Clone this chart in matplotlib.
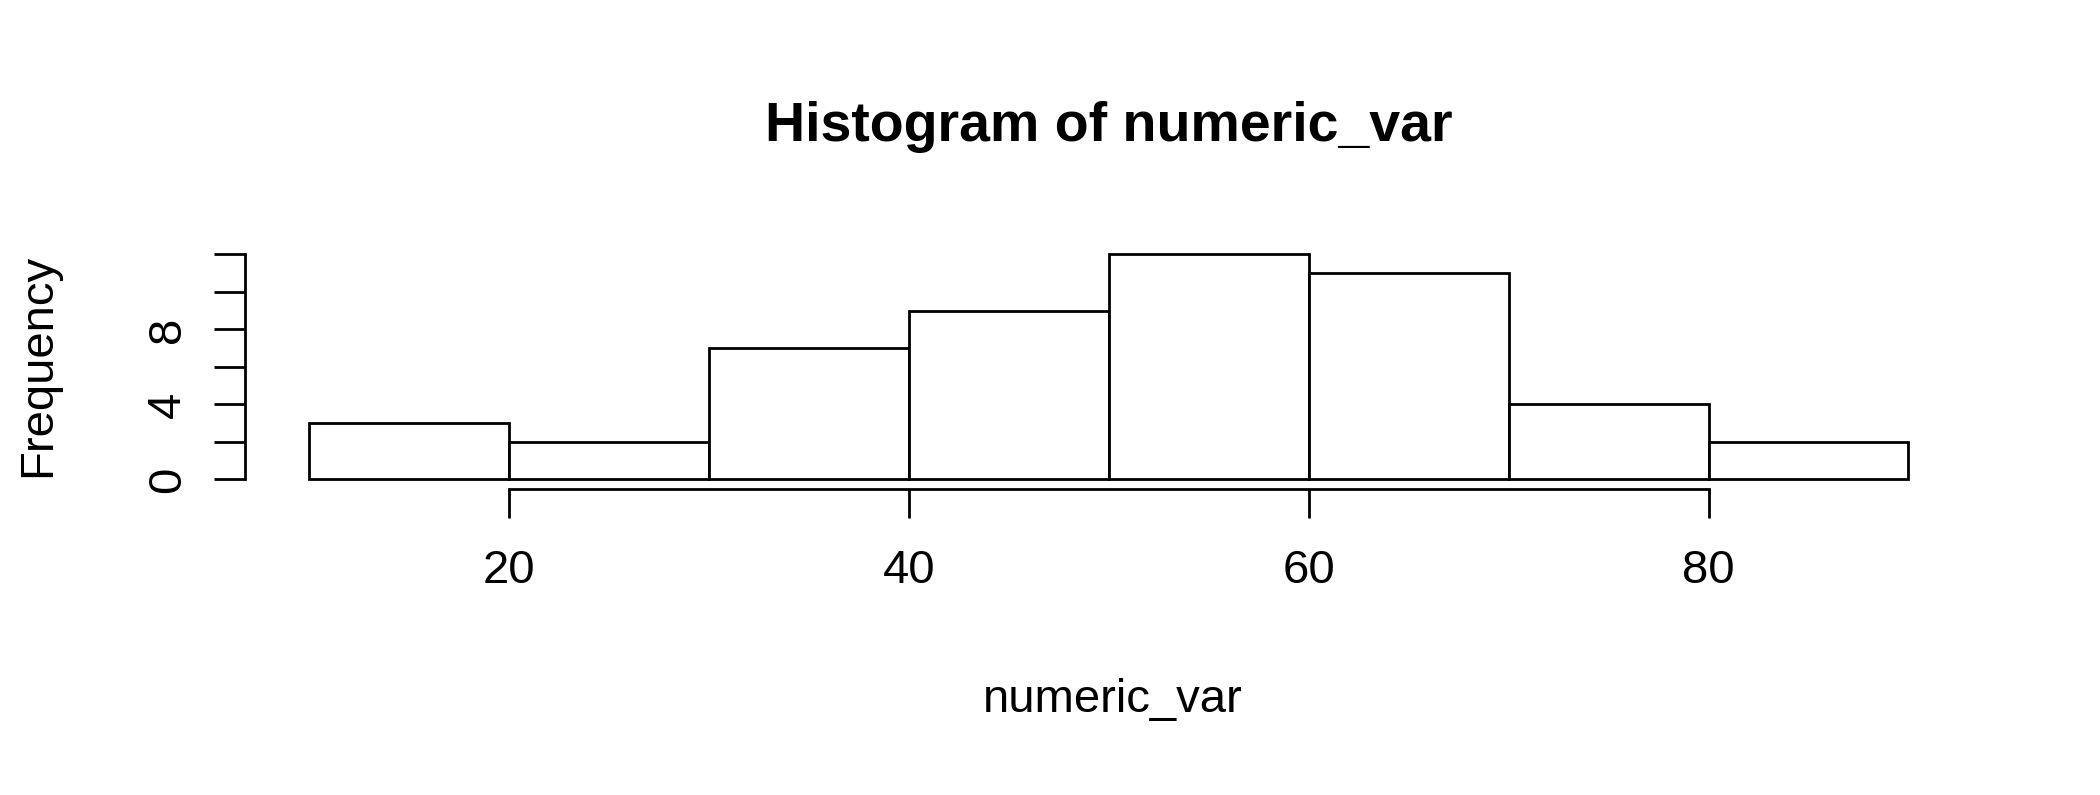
import matplotlib
matplotlib.use("Agg")
import matplotlib.pyplot as plt

plt.rcParams['font.family'] = ['Liberation Sans', 'DejaVu Sans']

bin_edges = [10, 20, 30, 40, 50, 60, 70, 80, 90]
counts = [3, 2, 7, 9, 12, 11, 4, 2]
x_ticks = [20, 40, 60, 80]
y_ticks = [0, 2, 4, 6, 8, 10, 12]
y_labels = ['0', '', '4', '', '8', '', '']

fig = plt.figure(figsize=(21, 7.95), dpi=100)
ax = fig.add_axes([0.1473, 0.3969, 0.7615, 0.283])
bars = ax.bar(bin_edges[:-1], counts, width=10, align='edge',
              facecolor='white', edgecolor='black', linewidth=2)
for b in bars:
    b.set_clip_on(False)
ax.set_xlim(10, 90)
ax.set_ylim(0, 12)

for s in ['top', 'right']:
    ax.spines[s].set_visible(False)
ax.spines['left'].set_position(('outward', 46))
ax.spines['bottom'].set_position(('outward', 7))
ax.spines['left'].set_bounds(0, 12)
ax.spines['bottom'].set_bounds(20, 80)
for s in ['left', 'bottom']:
    ax.spines[s].set_linewidth(2)

ax.set_xticks(x_ticks)
ax.set_yticks(y_ticks)
ax.set_yticklabels(y_labels, rotation=90, va='center')
ax.tick_params(axis='x', length=21, width=2, labelsize=34, pad=22)
ax.tick_params(axis='y', length=22, width=2, labelsize=34, pad=18)

ax.set_title('Histogram of numeric_var', fontsize=40, fontweight='bold', pad=82)
fig.text(0.53, 0.12, 'numeric_var', fontsize=34, ha='center', va='center')
fig.text(0.018, 0.54, 'Frequency', fontsize=34, rotation=90, ha='center', va='center')

fig.savefig('out.png', dpi=100)
